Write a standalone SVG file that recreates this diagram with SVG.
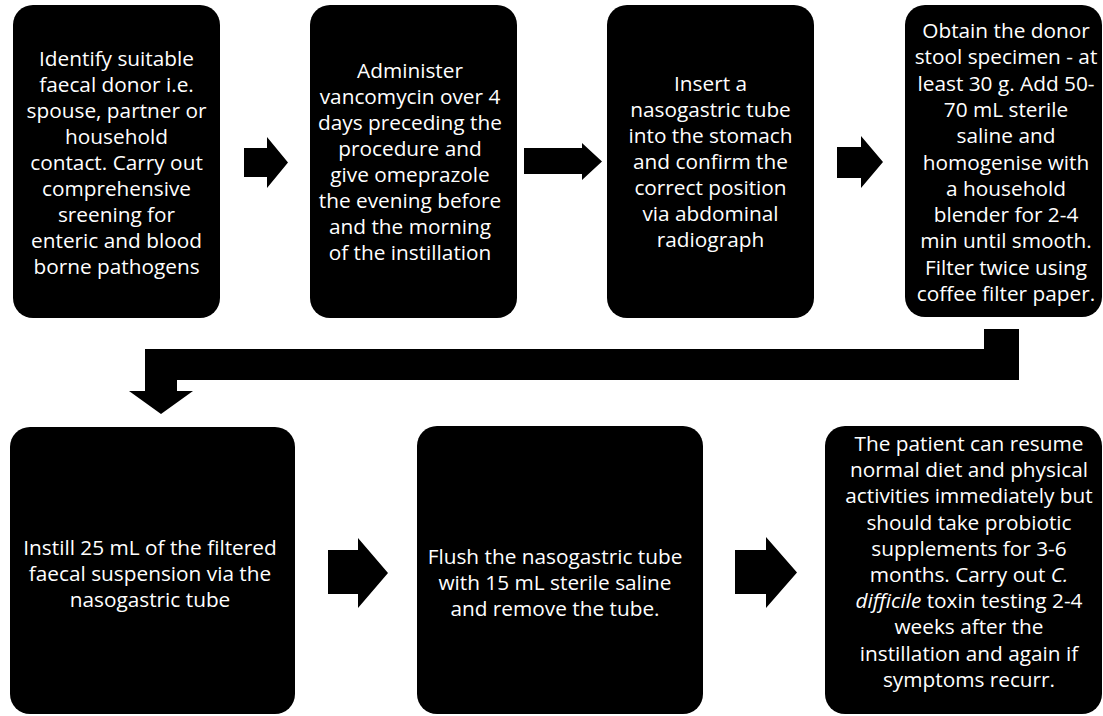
<svg xmlns="http://www.w3.org/2000/svg" width="1103" height="716" viewBox="0 0 1103 716">
<style>
.box{fill:#000;}
.arr{fill:#000;}
.t{font-family:"Open Sans","Liberation Sans",sans-serif;font-size:20.8px;fill:#fff;text-anchor:middle;}
.i{font-style:italic;}
</style>
<rect width="1103" height="716" fill="#fff"/>
<g id="connectors">
<polygon class="arr" points="244,148 267,148 267,137 288,162.5 267,188 267,177 244,177"/>
<polygon class="arr" points="524,148 582,148 582,143 602,161.5 582,180 582,174 524,174"/>
<polygon class="arr" points="837,147 861,147 861,136 883,162 861,188 861,178 837,178"/>
<polygon class="arr" points="984,329 1019,329 1019,380 177,380 177,391 193,391 161,414 129,391 145,391 145,349 984,349"/>
<polygon class="arr" points="328,550 358,550 358,538 388,573 358,608 358,594 328,594"/>
<polygon class="arr" points="735,550 766,550 766,537 797,572.5 766,608 766,594 735,594"/>
</g>
<g id="n1">
<rect class="box" x="13" y="5" width="207" height="313" rx="20"/>
<text class="t"><tspan x="116.5" y="66">Identify suitable</tspan><tspan x="116.5" y="92">faecal donor i.e.</tspan><tspan x="116.5" y="118">spouse, partner or</tspan><tspan x="116.5" y="144">household</tspan><tspan x="116.5" y="170">contact. Carry out</tspan><tspan x="116.5" y="196">comprehensive</tspan><tspan x="116.5" y="222">sreening for</tspan><tspan x="116.5" y="248">enteric and blood</tspan><tspan x="116.5" y="274">borne pathogens</tspan></text>
</g>
<g id="n2">
<rect class="box" x="310" y="5" width="207" height="313" rx="20"/>
<text class="t"><tspan x="410" y="78">Administer</tspan><tspan x="410" y="104">vancomycin over 4</tspan><tspan x="410" y="130">days preceding the</tspan><tspan x="410" y="156">procedure and</tspan><tspan x="410" y="182">give omeprazole</tspan><tspan x="410" y="208">the evening before</tspan><tspan x="410" y="234">and the morning</tspan><tspan x="410" y="260">of the instillation</tspan></text>
</g>
<g id="n3">
<rect class="box" x="607" y="5" width="207" height="313" rx="20"/>
<text class="t"><tspan x="710.5" y="91">Insert a</tspan><tspan x="710.5" y="117">nasogastric tube</tspan><tspan x="710.5" y="143">into the stomach</tspan><tspan x="710.5" y="169">and confirm the</tspan><tspan x="710.5" y="195">correct position</tspan><tspan x="710.5" y="221">via abdominal</tspan><tspan x="710.5" y="247">radiograph</tspan></text>
</g>
<g id="n4">
<rect class="box" x="905" y="5" width="197" height="312" rx="20"/>
<text class="t"><tspan x="1006" y="38">Obtain the donor</tspan><tspan x="1006" y="64.3">stool specimen - at</tspan><tspan x="1006" y="90.6">least 30 g. Add 50-</tspan><tspan x="1006" y="116.9">70 mL sterile</tspan><tspan x="1006" y="143.2">saline and</tspan><tspan x="1006" y="169.5">homogenise with</tspan><tspan x="1006" y="195.8">a household</tspan><tspan x="1006" y="222.1">blender for 2-4</tspan><tspan x="1006" y="248.4">min until smooth.</tspan><tspan x="1006" y="274.7">Filter twice using</tspan><tspan x="1006" y="301">coffee filter paper.</tspan></text>
</g>
<g id="n5">
<rect class="box" x="10" y="427" width="285" height="287" rx="20"/>
<text class="t"><tspan x="150" y="555">Instill 25 mL of the filtered</tspan><tspan x="150" y="581">faecal suspension via the</tspan><tspan x="150" y="607">nasogastric tube</tspan></text>
</g>
<g id="n6">
<rect class="box" x="417" y="426" width="286" height="288" rx="20"/>
<text class="t"><tspan x="555" y="564">Flush the nasogastric tube</tspan><tspan x="555" y="590">with 15 mL sterile saline</tspan><tspan x="555" y="616">and remove the tube.</tspan></text>
</g>
<g id="n7">
<rect class="box" x="825" y="426" width="277" height="288" rx="20"/>
<text class="t"><tspan x="969" y="451">The patient can resume</tspan><tspan x="969" y="477.2">normal diet and physical</tspan><tspan x="969" y="503.4">activities immediately but</tspan><tspan x="969" y="529.6">should take probiotic</tspan><tspan x="969" y="555.8">supplements for 3-6</tspan><tspan x="969" y="582">months. Carry out <tspan class="i">C.</tspan></tspan><tspan x="969" y="608.2"><tspan class="i">difficile</tspan> toxin testing 2-4</tspan><tspan x="969" y="634.4">weeks after the</tspan><tspan x="969" y="660.6">instillation and again if</tspan><tspan x="969" y="686.8">symptoms recurr.</tspan></text>
</g>
</svg>
